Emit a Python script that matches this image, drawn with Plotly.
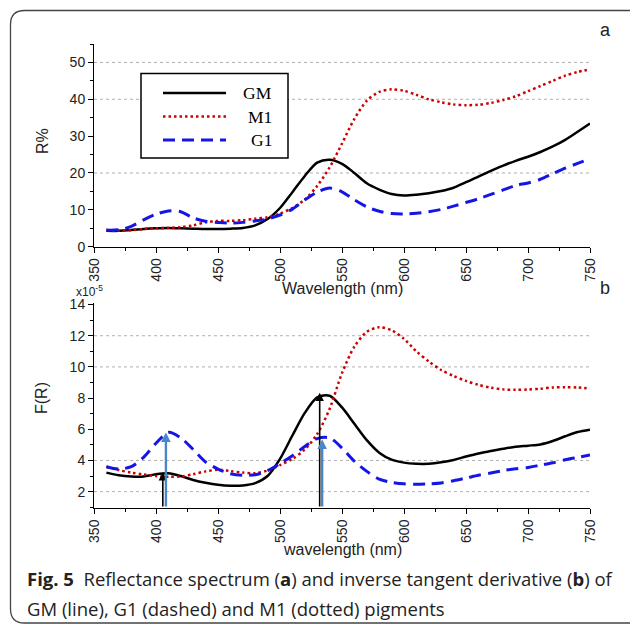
import plotly.graph_objects as go

# ---------------- data ----------------
wl = [360, 370, 380, 390, 400, 410, 420, 430, 440, 450, 460, 470, 480, 490, 500,
      510, 520, 530, 540, 550, 560, 570, 580, 590, 600, 610, 620, 630, 640, 650,
      660, 670, 680, 690, 700, 710, 720, 730, 740, 750]

# panel a: reflectance R%
r_gm = [4.3, 4.3, 4.5, 4.8, 5.0, 5.1, 5.0, 4.9, 4.8, 4.8, 4.9, 5.1, 5.8, 7.5, 10.5,
        14.8, 19.2, 22.8, 23.6, 22.5, 20.0, 17.2, 15.5, 14.3, 13.9, 14.1, 14.5, 15.1, 16.0, 17.5,
        19.0, 20.6, 22.0, 23.3, 24.4, 25.7, 27.2, 29.0, 31.2, 33.4]
r_m1 = [4.5, 4.3, 4.5, 4.8, 5.0, 5.1, 5.3, 5.8, 6.6, 7.0, 7.0, 7.2, 7.6, 8.0, 9.0,
        10.5, 12.8, 16.5, 21.5, 28.0, 34.7, 39.6, 42.0, 42.7, 42.3, 41.2, 40.0, 39.2, 38.6, 38.4,
        38.5, 39.0, 39.8, 40.8, 42.2, 43.6, 45.0, 46.4, 47.4, 48.1]
r_g1 = [4.5, 4.6, 5.5, 7.3, 8.8, 9.7, 9.5, 7.8, 6.9, 6.6, 6.4, 6.6, 7.0, 7.5, 8.6,
        10.2, 12.7, 14.8, 15.9, 14.9, 12.7, 10.8, 9.6, 9.0, 8.9, 9.1, 9.5, 10.1, 11.0, 12.0,
        13.0, 14.2, 15.4, 16.6, 17.3, 18.3, 19.8, 21.3, 22.6, 23.9]

# panel b: F(R) (x10^-5)
f_gm = [3.22, 3.05, 2.97, 2.97, 3.12, 3.18, 3.0, 2.75, 2.57, 2.44, 2.38, 2.40, 2.55, 3.0, 4.1,
        5.6, 7.05, 8.05, 8.15, 7.4, 6.35, 5.3, 4.5, 4.05, 3.86, 3.79, 3.79, 3.88, 4.03, 4.25,
        4.45, 4.6, 4.75, 4.88, 4.95, 5.03, 5.25, 5.55, 5.82, 5.97]
f_m1 = [3.6, 3.38, 3.22, 3.1, 3.0, 2.95, 2.97, 3.12, 3.3, 3.4, 3.32, 3.22, 3.18, 3.35, 3.7,
        4.1, 4.7, 5.7, 7.3, 9.6, 11.3, 12.25, 12.55, 12.35, 11.8, 11.0, 10.35, 9.8, 9.42, 9.1,
        8.85, 8.67, 8.56, 8.53, 8.55, 8.6, 8.68, 8.7, 8.68, 8.6]
f_g1 = [3.6, 3.45, 3.6, 4.2, 5.1, 5.8, 5.45, 4.7, 3.9, 3.45, 3.15, 3.05, 3.08, 3.35, 3.8,
        4.3, 4.9, 5.4, 5.45, 4.8, 3.95, 3.3, 2.8, 2.6, 2.5, 2.47, 2.5, 2.56, 2.7, 2.87,
        3.05, 3.2, 3.35, 3.47, 3.55, 3.7, 3.85, 4.05, 4.2, 4.35]

# peak markers (arrows) in panel b
arrow_x = [405.5, 408.0, 532.0, 534.0]
arrow_y = [3.25, 5.8, 8.35, 5.35]
arrow_col = ["black", "#4a86c8", "black", "#4a86c8"]

grid_a = [20, 40, 50]
grid_b = [2, 4, 10, 12]

series_names = ["GM", "M1", "G1"]
colors = ["black", "#cc0000", "#1515e6"]
dashes = ["solid", "2.5px,3px", "12px,7px"]
widths = [2.5, 2.5, 3]

W, H = 630, 625
def px(x):
    return x / W
def py(y):
    return 1 - y / H

fig = go.Figure()
top = [r_gm, r_m1, r_g1]
bot = [f_gm, f_m1, f_g1]
for i in range(3):
    fig.add_trace(go.Scatter(x=wl, y=top[i], mode="lines", name=series_names[i],
                             line=dict(color=colors[i], dash=dashes[i], width=widths[i],
                                       shape="spline", smoothing=0.8),
                             xaxis="x", yaxis="y", showlegend=False))
for i in range(3):
    fig.add_trace(go.Scatter(x=wl, y=bot[i], mode="lines", name=series_names[i],
                             line=dict(color=colors[i], dash=dashes[i], width=widths[i],
                                       shape="spline", smoothing=0.8),
                             xaxis="x2", yaxis="y2", showlegend=False))

tickfont = dict(family="Liberation Sans, Arial", size=14, color="#222")
nogrid = dict(showgrid=False, gridcolor="rgba(0,0,0,0)", zeroline=False)
xcommon = dict(range=[350, 750], tick0=350, dtick=50, tickangle=-90, ticks="outside",
               ticklen=5, tickwidth=1, tickcolor="black", showline=True, linecolor="black",
               linewidth=1, tickfont=tickfont,
               minor=dict(tick0=350, dtick=25, ticks="outside", ticklen=3, tickcolor="black",
                          showgrid=False),
               automargin=False, **nogrid)

fig.update_layout(
    template="simple_white",
    width=W, height=H, margin=dict(l=0, r=0, t=0, b=0),
    paper_bgcolor="white", plot_bgcolor="white",
    xaxis=dict(domain=[px(94), px(590)], anchor="y", **xcommon),
    yaxis=dict(domain=[py(246.7), py(44)], range=[0, 55], tick0=0, dtick=10,
               ticks="outside", ticklen=5, tickcolor="black", showline=True,
               linecolor="black", tickfont=tickfont,
               minor=dict(tick0=0, dtick=5, ticks="outside", ticklen=3, tickcolor="black",
                          showgrid=False),
               anchor="x", automargin=False, **nogrid),
    xaxis2=dict(domain=[px(94), px(590)], anchor="y2", **xcommon),
    yaxis2=dict(domain=[py(508), py(303)], range=[0.95, 14.1], tick0=0, dtick=2,
                ticks="outside", ticklen=5, tickcolor="black", showline=True,
                linecolor="black", tickfont=tickfont,
                minor=dict(tick0=0, dtick=1, ticks="outside", ticklen=3, tickcolor="black",
                           showgrid=False),
                anchor="x2", automargin=False, **nogrid),
)

shapes = []
for g in grid_a:
    shapes.append(dict(type="line", xref="x domain", yref="y", x0=0, x1=1, y0=g, y1=g,
                       line=dict(color="#b0b0b0", width=1, dash="dot"), layer="below",
                       opacity=1))
for g in grid_b:
    shapes.append(dict(type="line", xref="x2 domain", yref="y2", x0=0, x1=1, y0=g, y1=g,
                       line=dict(color="#b0b0b0", width=1, dash="dot"), layer="below",
                       opacity=1))

# outer rounded frame
r = 14
fx0, fy0, fx1, fy1 = 10.5, 10.5, 660, 623
path = (f"M {px(fx1)},{py(fy0)} L {px(fx0 + r)},{py(fy0)} "
        f"Q {px(fx0)},{py(fy0)} {px(fx0)},{py(fy0 + r)} "
        f"L {px(fx0)},{py(fy1 - r)} Q {px(fx0)},{py(fy1)} {px(fx0 + r)},{py(fy1)} "
        f"L {px(fx1)},{py(fy1)}")
shapes.append(dict(type="path", xref="paper", yref="paper", path=path, opacity=1,
                   fillcolor="rgba(0,0,0,0)", line=dict(color="#444", width=1.3)))

# legend box
shapes.append(dict(type="rect", xref="paper", yref="paper", x0=px(141), x1=px(288),
                   y0=py(158), y1=py(73.5), line=dict(color="black", width=1.5),
                   fillcolor="white", opacity=1))
leg_rows = [93, 116.5, 140]
for i in range(3):
    shapes.append(dict(type="line", xref="paper", yref="paper", x0=px(163), x1=px(226),
                       y0=py(leg_rows[i]), y1=py(leg_rows[i]), opacity=1,
                       line=dict(color=colors[i], dash=dashes[i], width=widths[i])))
fig.update_layout(shapes=shapes)

ann = []
for i in range(3):
    ann.append(dict(xref="paper", yref="paper", x=px(274), y=py(leg_rows[i]),
                    text=series_names[i], showarrow=False, xanchor="right", yanchor="middle",
                    font=dict(family="Liberation Serif, Times New Roman", size=17.5, color="black")))

for xa, ya, ca in zip(arrow_x, arrow_y, arrow_col):
    blk = ca == "black"
    ann.append(dict(xref="x2", yref="y2", axref="x2", ayref="y2", x=xa, y=ya, ax=xa, ay=0.95,
                    text="", showarrow=True, arrowhead=2, arrowcolor=ca,
                    arrowwidth=1.6 if blk else 2.4, arrowsize=1.05 if blk else 0.8,
                    standoff=0, startstandoff=0))

titlefont = dict(family="Liberation Sans, Arial", size=16, color="#222")
C = dict(xanchor="center", yanchor="middle", showarrow=False, xref="paper", yref="paper")
ann += [
    dict(x=px(42), y=py(141), text="R%", textangle=-90, font=titlefont, **C),
    dict(x=px(41), y=py(398), text="F(R)", textangle=-90, font=titlefont, **C),
    dict(x=px(342), y=py(288), text="Wavelength (nm)", font=titlefont, **C),
    dict(x=px(342), y=py(549), text="wavelength (nm)", font=titlefont, **C),
    dict(x=px(89), y=py(290.5), text="x10<sup>-5</sup>",
         font=dict(family="Liberation Sans, Arial", size=12, color="#222"), **C),
    dict(x=px(605), y=py(30), text="a",
         font=dict(family="Liberation Sans, Arial", size=18, color="#222"), **C),
    dict(x=px(605), y=py(288), text="b",
         font=dict(family="Liberation Sans, Arial", size=18, color="#222"), **C),
    dict(xref="paper", yref="paper", x=px(25), y=py(578), xanchor="left", yanchor="middle",
         text="<b>Fig. 5</b>  Reflectance spectrum (<b>a</b>) and inverse tangent derivative (<b>b</b>) of",
         showarrow=False, font=dict(family="Open Sans", size=18.5, color="#222")),
    dict(xref="paper", yref="paper", x=px(25), y=py(608), xanchor="left", yanchor="middle",
         text="GM (line), G1 (dashed) and M1 (dotted) pigments",
         showarrow=False, font=dict(family="Open Sans", size=18.5, color="#222")),
]
fig.update_layout(annotations=ann)

fig.write_html("out.html")
